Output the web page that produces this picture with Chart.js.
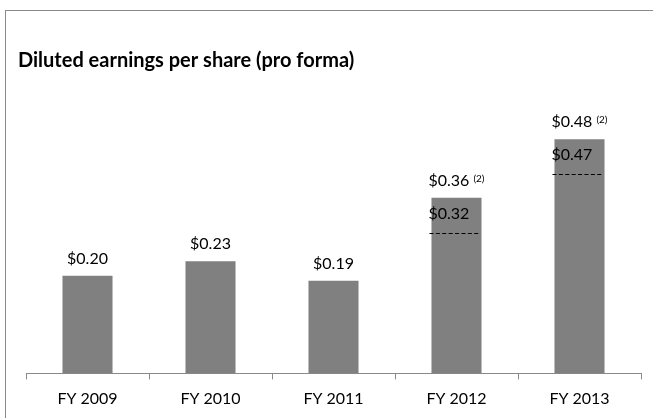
<!DOCTYPE html>
<html lang="en">
<head>
    <meta charset="UTF-8">
    <title>Diluted earnings per share (pro forma)</title>
    <style>
        body {
            margin: 0;
            padding: 0;
            background: #fff;
            overflow: hidden;
        }

        .frame {
            position: absolute;
            left: 5px;
            top: 10px;
            width: 700px;
            height: 500px;
            border-left: 1px solid #8a8a8a;
            border-top: 1px solid #8a8a8a;
        }

        .chart-box {
            position: absolute;
            left: 0;
            top: 0;
            width: 653px;
            height: 418px;
        }
    </style>
</head>
<body>
    <div class="frame"></div>
    <div class="chart-box">
        <canvas id="epsChart"></canvas>
    </div>

    <script src="https://cdn.jsdelivr.net/npm/chart.js"></script>
    <script>
        const categories = ['FY 2009', 'FY 2010', 'FY 2011', 'FY 2012', 'FY 2013'];
        const eps = [0.20, 0.23, 0.19, 0.36, 0.48];
        const footnotes = ['', '', '', '(2)', '(2)'];
        const priorEps = [null, null, null, 0.32, 0.47];

        const titleText = 'Diluted earnings per share (pro forma)';
        const labelFont = '16px Lato';

        // value labels, footnote marks and the inner dashed figures
        const barLabels = {
            id: 'barLabels',
            afterDatasetsDraw(chart) {
                const ctx = chart.ctx;
                const bars = chart.getDatasetMeta(0).data;
                ctx.save();
                ctx.fillStyle = '#000';
                ctx.textBaseline = 'alphabetic';
                bars.forEach((bar, i) => {
                    const main = '$' + eps[i].toFixed(2);
                    ctx.font = labelFont;
                    const mw = ctx.measureText(main).width;
                    let sw = 0;
                    if (footnotes[i]) {
                        ctx.font = '10px Lato';
                        sw = 4 + ctx.measureText(footnotes[i]).width;
                    }
                    const x0 = bar.x - (mw + sw) / 2;
                    ctx.font = labelFont;
                    ctx.textAlign = 'left';
                    ctx.fillText(main, x0, bar.y - 12);
                    if (footnotes[i]) {
                        ctx.font = '10px Lato';
                        ctx.fillText(footnotes[i], x0 + mw + 4, bar.y - 16);
                    }

                    if (priorEps[i] !== null) {
                        const left = bar.x - bar.width / 2;
                        ctx.font = labelFont;
                        ctx.fillText('$' + priorEps[i].toFixed(2), left - 3, bar.y + 21);
                        ctx.strokeStyle = '#000';
                        ctx.lineWidth = 1;
                        ctx.setLineDash([4, 2.4]);
                        ctx.beginPath();
                        ctx.moveTo(left - 2, Math.round(bar.y + 35) + 0.5);
                        ctx.lineTo(left + bar.width - 2, Math.round(bar.y + 35) + 0.5);
                        ctx.stroke();
                        ctx.setLineDash([]);
                    }
                });

                ctx.font = 'bold 20px Lato';
                ctx.textAlign = 'left';
                ctx.fillText(titleText, 18, 67);
                ctx.restore();
            }
        };

        new Chart(document.getElementById('epsChart'), {
            type: 'bar',
            data: {
                labels: categories,
                datasets: [{
                    data: eps,
                    backgroundColor: '#808080',
                    barPercentage: 0.407,
                    categoryPercentage: 1
                }]
            },
            options: {
                responsive: true,
                maintainAspectRatio: false,
                animation: false,
                layout: {
                    padding: { left: 26, right: 12, top: 129.5, bottom: -0.6 }
                },
                plugins: {
                    legend: { display: false },
                    tooltip: { enabled: false }
                },
                scales: {
                    x: {
                        border: { color: '#8a8a8a' },
                        grid: {
                            drawOnChartArea: false,
                            tickLength: 6,
                            color: '#8a8a8a'
                        },
                        ticks: {
                            color: '#000',
                            font: { family: 'Lato', size: 16 },
                            padding: 10,
                            maxRotation: 0
                        }
                    },
                    y: {
                        display: false,
                        min: 0,
                        max: 0.5
                    }
                }
            },
            plugins: [barLabels]
        });
    </script>
</body>
</html>
